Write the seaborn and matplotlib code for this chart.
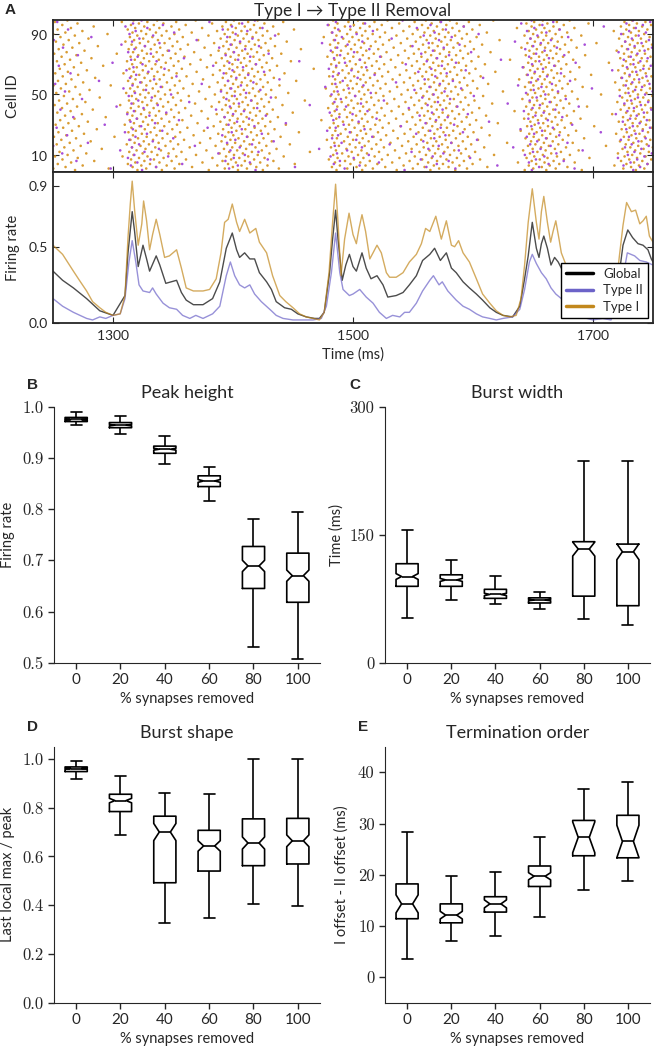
import numpy as np
import pandas as pd
import seaborn as sns
import matplotlib
matplotlib.use('Agg')
import matplotlib.pyplot as plt
from matplotlib.ticker import FuncFormatter
from matplotlib.lines import Line2D

sns.set_style('ticks')
plt.rcParams['font.family'] = ['Lato', 'DejaVu Sans']
plt.rcParams['axes.formatter.use_mathtext'] = True

# Panel A - population firing rates (time in ms)
t_type1 = [1250, 1258, 1267, 1272, 1278, 1283, 1289, 1294, 1300, 1306,
           1310, 1312.5, 1314.4, 1316, 1318, 1321, 1324, 1325.5, 1328, 1330.5,
           1333, 1336, 1339, 1343, 1347, 1353, 1357, 1361, 1367, 1375,
           1380.5, 1386, 1390, 1393, 1396, 1399.4, 1403, 1405.5, 1409.7, 1414,
           1419, 1422, 1428, 1433, 1439, 1444, 1450, 1455.5, 1461, 1466.7,
           1472, 1476, 1480, 1483, 1485.5, 1487.5, 1490, 1493, 1496.7, 1500,
           1502.8, 1505, 1507.5, 1510.5, 1514, 1516.7, 1520, 1523.6, 1527.8, 1530.5,
           1536, 1541.7, 1547, 1552.8, 1557, 1560.5, 1564, 1569, 1573.6, 1577.8,
           1582, 1584.7, 1588, 1591.7, 1597, 1602.8, 1608, 1614, 1619.4, 1625,
           1630.6, 1636, 1640, 1643, 1646, 1649.4, 1652.8, 1655, 1657, 1659,
           1662, 1664.7, 1666.7, 1669, 1671.7, 1673.6, 1680, 1688, 1696, 1705,
           1712, 1717, 1722, 1725, 1728, 1732, 1735.5, 1739, 1741.7, 1744.4,
           1747, 1750]
r_type1 = [0.51, 0.45, 0.34, 0.28, 0.21, 0.14, 0.10, 0.07, 0.05, 0.06,
           0.18, 0.56, 0.78, 0.93, 0.74, 0.51, 0.65, 0.80, 0.67, 0.48,
           0.58, 0.68, 0.58, 0.43, 0.44, 0.48, 0.36, 0.23, 0.21, 0.21,
           0.22, 0.29, 0.46, 0.66, 0.68, 0.78, 0.66, 0.60, 0.68, 0.59,
           0.62, 0.53, 0.46, 0.31, 0.18, 0.14, 0.10, 0.06, 0.04, 0.03,
           0.02, 0.07, 0.33, 0.66, 0.91, 0.66, 0.31, 0.55, 0.72, 0.58,
           0.52, 0.62, 0.71, 0.60, 0.42, 0.46, 0.51, 0.46, 0.33, 0.30,
           0.30, 0.33, 0.40, 0.45, 0.52, 0.62, 0.60, 0.70, 0.55, 0.67,
           0.51, 0.50, 0.54, 0.46, 0.40, 0.29, 0.19, 0.13, 0.08, 0.05,
           0.04, 0.05, 0.16, 0.38, 0.66, 0.88, 0.66, 0.55, 0.73, 0.83,
           0.66, 0.53, 0.60, 0.67, 0.55, 0.46, 0.33, 0.18, 0.08, 0.04,
           0.04, 0.08, 0.44, 0.64, 0.79, 0.73, 0.74, 0.65, 0.67, 0.70,
           0.57, 0.53]

t_global = [1250, 1258, 1267, 1278, 1289, 1300, 1310, 1312.5, 1316, 1318,
            1321, 1325, 1328, 1330.5, 1336, 1339, 1344, 1353, 1357, 1361,
            1367, 1375, 1383, 1389, 1394.4, 1399.4, 1403, 1405.5, 1409.7, 1414,
            1418, 1422, 1428, 1432, 1436, 1443, 1448.6, 1454, 1461, 1468,
            1472, 1476, 1480.5, 1483, 1485.5, 1487.5, 1491, 1494, 1497, 1500,
            1502.8, 1507.5, 1511, 1515, 1520, 1525, 1529, 1536, 1541.7, 1547,
            1552.8, 1558, 1564, 1568, 1572.8, 1577.8, 1582, 1586, 1591.7, 1597,
            1602.8, 1608, 1614, 1619.4, 1625, 1633, 1639, 1643, 1646, 1649.4,
            1652.8, 1655, 1657, 1659, 1662, 1665, 1668, 1671, 1673.6, 1680,
            1688, 1696, 1705, 1712, 1717, 1722, 1725, 1729, 1733, 1737.5,
            1741.7, 1745.8, 1748.6, 1750]
r_global = [0.34, 0.28, 0.23, 0.16, 0.08, 0.05, 0.18, 0.46, 0.73, 0.60,
            0.37, 0.51, 0.42, 0.34, 0.44, 0.38, 0.26, 0.28, 0.20, 0.15,
            0.12, 0.12, 0.16, 0.27, 0.49, 0.59, 0.48, 0.43, 0.46, 0.42,
            0.42, 0.33, 0.27, 0.22, 0.14, 0.10, 0.09, 0.06, 0.04, 0.03,
            0.03, 0.07, 0.33, 0.55, 0.74, 0.55, 0.28, 0.38, 0.45, 0.37,
            0.34, 0.46, 0.36, 0.29, 0.31, 0.25, 0.17, 0.18, 0.20, 0.25,
            0.31, 0.41, 0.45, 0.49, 0.41, 0.46, 0.36, 0.33, 0.27, 0.23,
            0.19, 0.15, 0.10, 0.07, 0.05, 0.04, 0.11, 0.29, 0.44, 0.66,
            0.49, 0.43, 0.52, 0.57, 0.49, 0.38, 0.43, 0.40, 0.36, 0.27,
            0.14, 0.06, 0.03, 0.03, 0.07, 0.33, 0.51, 0.61, 0.56, 0.52,
            0.51, 0.48, 0.42, 0.40]

t_type2 = [1250, 1258, 1267, 1278, 1283, 1289, 1294, 1300, 1306, 1310,
           1313.3, 1316, 1319, 1321.7, 1325, 1330.5, 1333, 1336, 1341.7, 1347,
           1353, 1358, 1364, 1369, 1375, 1383, 1389, 1394.4, 1397.8, 1401.4,
           1405.5, 1409.7, 1414, 1418, 1423.6, 1427.8, 1432, 1436, 1441.7, 1450,
           1458, 1466.7, 1473.6, 1477.8, 1482, 1485.5, 1489, 1491.7, 1497, 1500,
           1505.6, 1511, 1516.7, 1522, 1527.8, 1533, 1539, 1543, 1547, 1552.8,
           1558, 1564, 1567, 1571.7, 1574.4, 1579, 1586, 1591.7, 1597, 1602.8,
           1608, 1614, 1619.4, 1625, 1633, 1639, 1643, 1647, 1649.4, 1652.8,
           1657, 1661, 1665, 1669, 1673.6, 1680, 1688, 1695, 1700, 1708,
           1715, 1720, 1725, 1728.6, 1734.7, 1739, 1744.4, 1750]
r_type2 = [0.16, 0.11, 0.07, 0.03, 0.02, 0.04, 0.03, 0.05, 0.06, 0.16,
           0.40, 0.54, 0.40, 0.25, 0.21, 0.20, 0.23, 0.19, 0.13, 0.10,
           0.09, 0.05, 0.03, 0.05, 0.03, 0.06, 0.11, 0.31, 0.40, 0.31,
           0.25, 0.23, 0.25, 0.19, 0.14, 0.11, 0.08, 0.05, 0.03, 0.02,
           0.02, 0.02, 0.03, 0.11, 0.33, 0.59, 0.33, 0.22, 0.18, 0.19,
           0.22, 0.17, 0.13, 0.07, 0.03, 0.05, 0.04, 0.07, 0.07, 0.13,
           0.21, 0.28, 0.31, 0.25, 0.27, 0.21, 0.15, 0.11, 0.09, 0.06,
           0.04, 0.03, 0.02, 0.03, 0.04, 0.09, 0.22, 0.40, 0.45, 0.39,
           0.33, 0.29, 0.23, 0.19, 0.16, 0.11, 0.06, 0.03, 0.02, 0.03,
           0.02, 0.10, 0.30, 0.46, 0.44, 0.41, 0.40, 0.38]

# Panels B-E - box summaries: (lower whisker, q1, median, q3, upper whisker)
removed = ['0', '20', '40', '60', '80', '100']
peak_height = [(0.964, 0.971, 0.975, 0.979, 0.989),
               (0.947, 0.959, 0.964, 0.969, 0.982),
               (0.889, 0.909, 0.917, 0.923, 0.943),
               (0.816, 0.844, 0.855, 0.865, 0.883),
               (0.531, 0.645, 0.689, 0.727, 0.780),
               (0.507, 0.618, 0.670, 0.714, 0.794)]
burst_width = [(52, 89.5, 101, 116, 155.5),
               (73, 89.5, 97, 103, 120),
               (68.4, 75.4, 80, 86, 101.5),
               (63.3, 70, 73.4, 76, 83),
               (51.2, 78, 133.2, 141.8, 236.7),
               (44.1, 66.8, 130, 139, 236.3)]
burst_shape = [(0.917, 0.948, 0.960, 0.967, 0.993),
               (0.688, 0.784, 0.829, 0.855, 0.929),
               (0.327, 0.492, 0.700, 0.765, 0.861),
               (0.349, 0.540, 0.643, 0.707, 0.855),
               (0.404, 0.562, 0.655, 0.754, 1.000),
               (0.398, 0.569, 0.664, 0.756, 1.000)]
term_order = [(3.6, 11.4, 14.3, 18.2, 28.3),
              (7.1, 10.6, 12.1, 14.3, 19.8),
              (8.1, 12.7, 14.3, 15.7, 20.6),
              (11.8, 17.7, 19.7, 21.7, 27.4),
              (17.1, 23.7, 27.3, 30.6, 36.8),
              (18.7, 23.3, 26.5, 31.6, 38.1)]
# number of bursts behind each box (sets notch size)
n_peak = [149, 149, 149, 149, 137, 189]
n_width = [149, 149, 149, 149, 149, 149]
n_shape = [149, 149, 149, 149, 149, 149]
n_term = [37, 61, 37, 81, 13, 17]


def expand(stats, n):
    # sample of size n = 4k+1 with exactly these quartiles and extremes
    lo, q1, med, q3, hi = stats
    k = (n - 1) // 4
    return [lo] + [q1] * k + [med] * k + [q3] * (2 * k - 1) + [hi]


W, H = 655, 1050
fig = plt.figure(figsize=(W / 100, H / 100), dpi=100)


def place(l, t, r, b):
    return fig.add_axes([l / W, 1 - b / H, (r - l) / W, (b - t) / H])


# ---- Panel A: raster, spikes placed where each cell's integrated rate crosses a threshold ----
grid = np.arange(1250, 1750.01, 0.25)
rows = []
for name, tt, rr, step, gain in [('Type I', t_type1, r_type1, 0.6180339, 0.08),
                                 ('Type II', t_type2, r_type2, 0.4142136, 0.07)]:
    drive = np.interp(grid, tt, rr)
    cum = np.concatenate([[0], np.cumsum(drive[:-1] * 0.25)]) * gain
    for cell in range(100):
        phase = (cell * step + 0.37) % 1.0
        levels = np.arange(1, np.floor(cum[-1] + phase) + 1)
        for tsp in np.interp(levels - phase, cum, grid):
            rows.append((tsp, cell, name))
raster = pd.DataFrame(rows, columns=['time', 'cell', 'type'])

ax_r = place(53, 20, 653, 172)
sns.scatterplot(data=raster, x='time', y='cell', hue='type',
                palette={'Type I': '#d99c33', 'Type II': '#a84fd8'},
                s=3.5, linewidth=0, legend=False, ax=ax_r)
ax_r.set_xlim(1250, 1750)
ax_r.set_ylim(-1.3, 99.3)
ax_r.set_yticks([10, 50, 90])
ax_r.set_xticks([1300, 1500, 1700])
ax_r.tick_params(labelbottom=False)
ax_r.set_xlabel('')
ax_r.set_ylabel('Cell ID', fontsize=10.5)
ax_r.yaxis.set_label_coords(-0.055, 0.5)
ax_r.set_title('Type I → Type II Removal', fontsize=12.5, pad=3)

# ---- Panel A: firing rates ----
rates = pd.concat([
    pd.DataFrame({'time': t_global, 'rate': r_global, 'series': 'Global'}),
    pd.DataFrame({'time': t_type2, 'rate': r_type2, 'series': 'Type II'}),
    pd.DataFrame({'time': t_type1, 'rate': r_type1, 'series': 'Type I'}),
])
line_cols = {'Global': '#000000', 'Type II': '#6c63c8', 'Type I': '#c2881c'}
ax_f = place(53, 172, 653, 323)
sns.lineplot(data=rates, x='time', y='rate', hue='series', palette=line_cols,
             estimator=None, linewidth=1.0, alpha=0.7, legend=False, ax=ax_f)
ax_f.set_xlim(1250, 1750)
ax_f.set_ylim(0, 0.99)
ax_f.set_xticks([1300, 1500, 1700])
ax_f.set_yticks([0.0, 0.5, 0.9])
ax_f.yaxis.set_major_formatter(FuncFormatter(lambda v, p: f'{v:.1f}'))
ax_f.set_xlabel('Time (ms)', fontsize=10.5)
ax_f.set_ylabel('Firing rate', fontsize=10.5)
ax_f.yaxis.set_label_coords(-0.055, 0.5)
handles = [Line2D([], [], color=line_cols[k], lw=2.5) for k in ['Global', 'Type II', 'Type I']]
leg = ax_f.legend(handles, ['Global', 'Type II', 'Type I'], loc='lower right',
                  fontsize=9.5, frameon=True, fancybox=False, framealpha=1,
                  edgecolor='black', borderaxespad=0.35, handlelength=2.0,
                  labelspacing=0.35)
leg.get_frame().set_linewidth(1.0)

for ax in (ax_r, ax_f):
    ax.tick_params(direction='in', top=True, right=True, length=4, labelsize=10)
    for sp in ax.spines.values():
        sp.set_linewidth(1.3)


# ---- Panels B-E ----
def box_panel(ax, stats, counts, ylim, yticks, fmt, title, ylabel, ylab_x):
    vals, cats = [], []
    for cat, s, n in zip(removed, stats, counts):
        sample = expand(s, n)
        vals += sample
        cats += [cat] * len(sample)
    df = pd.DataFrame({'removed': cats, 'value': vals})
    sns.boxplot(data=df, x='removed', y='value', order=removed, ax=ax,
                fill=False, color='black', width=0.5, linewidth=1.2,
                whis=(0, 100), notch=True, showfliers=False)
    ax.set_xlim(-0.5, 5.5)
    ax.set_ylim(*ylim)
    ax.set_yticks(yticks)
    ax.yaxis.set_major_formatter(FuncFormatter(lambda v, p: format(v, fmt)))
    ax.tick_params(axis='y', labelsize=12, labelfontfamily='cmr10')
    ax.tick_params(axis='x', labelsize=11)
    ax.tick_params(length=4, width=1)
    ax.set_title(title, fontsize=13, pad=6)
    ax.set_ylabel(ylabel, fontsize=10.5)
    ax.yaxis.set_label_coords(ylab_x, 0.5)
    ax.set_xlabel('% synapses removed', fontsize=10.5)
    ax.xaxis.set_label_coords(0.5, -0.115)
    sns.despine(ax=ax)


ax_b = place(54, 406.7, 320, 662.7)
box_panel(ax_b, peak_height, n_peak, (0.5, 1.0), np.arange(0.5, 1.01, 0.1), '.1f',
          'Peak height', 'Firing rate', -0.145)
ax_c = place(385, 406.7, 650, 662.7)
box_panel(ax_c, burst_width, n_width, (0, 300), [0, 150, 300], '.0f',
          'Burst width', 'Time (ms)', -0.155)
ax_d = place(54, 746.7, 320, 1002.7)
box_panel(ax_d, burst_shape, n_shape, (0, 1.05), np.arange(0, 1.01, 0.2), '.1f',
          'Burst shape', 'Last local max / peak', -0.145)
ax_e = place(385, 746.7, 650, 1002.7)
box_panel(ax_e, term_order, n_term, (-5, 45), [0, 10, 20, 30, 40], '.0f',
          'Termination order', 'I offset - II offset (ms)', -0.136)

for letter, x, y in [('A', 10, 10), ('B', 32, 385), ('C', 355, 385),
                     ('D', 32, 727), ('E', 363, 727)]:
    fig.text(x / W, 1 - y / H, letter, fontsize=11, fontweight='bold',
             family='Liberation Sans', ha='center', va='center')

fig.savefig('out.png', dpi=100)
